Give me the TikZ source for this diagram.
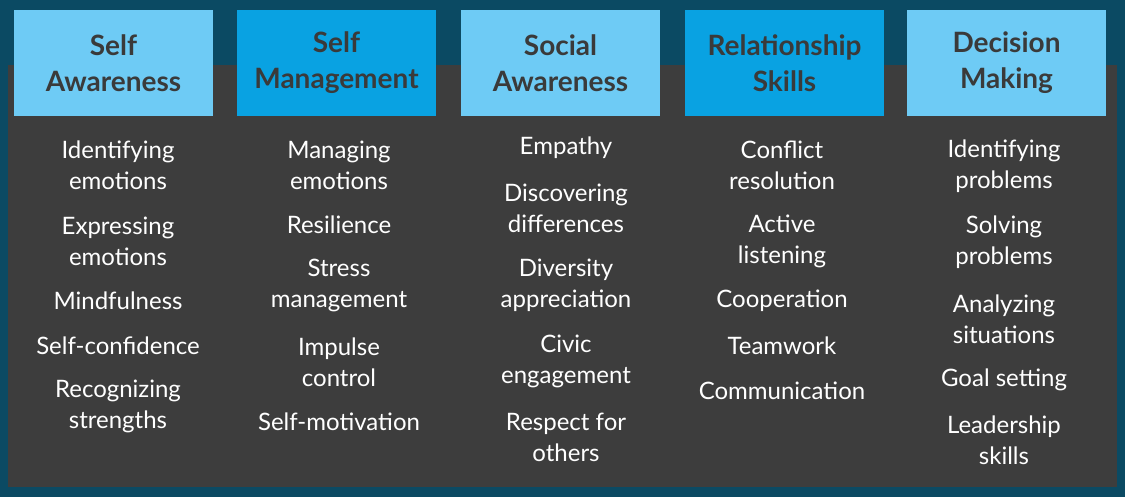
\documentclass[tikz,border=0pt]{standalone}
\usepackage{fontspec}
\setmainfont{Lato}
\definecolor{frame}{HTML}{0B4A63}
\definecolor{panel}{HTML}{3D3D3D}
\definecolor{lightblue}{HTML}{6ECBF5}
\definecolor{deepblue}{HTML}{09A2E2}
\definecolor{headtext}{HTML}{3A3A3A}
\tikzset{
  head/.style={minimum width=199pt, minimum height=106pt, inner sep=0pt, align=center,
    text=headtext, font=\fontsize{28}{36}\selectfont\bfseries},
  item/.style={align=center, text=white, font=\fontsize{24}{31}\selectfont}
}
\begin{document}
\begin{tikzpicture}[x=1pt,y=-1pt]
\fill [frame] (0,0) rectangle (1125,497);
\fill [panel] (8,65) rectangle (1117,487);

\node [head,fill=lightblue] (h1) at (113.5,63) {Self\\Awareness};
\node [head,fill=deepblue] (h2) at (336.5,63) {Self\\Management};
\node [head,fill=lightblue] (h3) at (560.5,63) {Social\\Awareness};
\node [head,fill=deepblue] (h4) at (784.5,63) {Relationship\\Skills};
\node [head,fill=lightblue] (h5) at (1006.5,63) {Decision\\Making};

\node [item] (a1) at (118,165.5) {Identifying\\emotions};
\node [item] (a2) at (118,241.5) {Expressing\\emotions};
\node [item] (a3) at (118,301) {Mindfulness};
\node [item] (a4) at (118,346) {Self-confidence};
\node [item] (a5) at (118,406.5) {Recognizing\\strengths};

\node [item] (b1) at (339,165.5) {Managing\\emotions};
\node [item] (b2) at (339,225) {Resilience};
\node [item] (b3) at (339,285.5) {Stress\\management};
\node [item] (b4) at (339,362.5) {Impulse\\control};
\node [item] (b5) at (339,422) {Self-motivation};

\node [item] (c1) at (566,148) {Empathy};
\node [item] (c2) at (566,208.5) {Discovering\\differences};
\node [item] (c3) at (566,285) {Diversity\\appreciation};
\node [item] (c4) at (566,361.5) {Civic\\engagement};
\node [item] (c5) at (566,437.5) {Respect for\\others};

\node [item] (d1) at (782,165.5) {Conflict\\resolution};
\node [item] (d2) at (782,241.5) {Active\\listening};
\node [item] (d3) at (782,301) {Cooperation};
\node [item] (d4) at (782,346) {Teamwork};
\node [item] (d5) at (782,391) {Communication};

\node [item] (e1) at (1004,166.5) {Identifying\\problems};
\node [item] (e2) at (1004,242.5) {Solving\\problems};
\node [item] (e3) at (1004,319.5) {Analyzing\\situations};
\node [item] (e4) at (1004,380) {Goal setting};
\node [item] (e5) at (1004,440.5) {Leadership\\skills};
\end{tikzpicture}
\end{document}
